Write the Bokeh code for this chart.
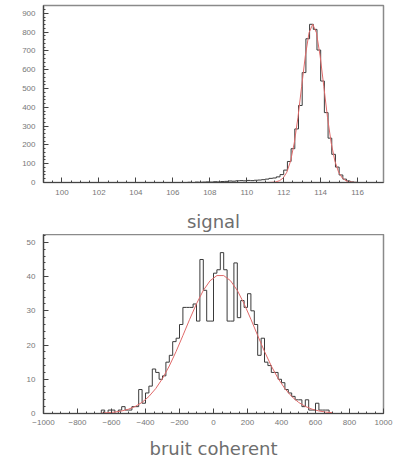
from bokeh.plotting import figure
from bokeh.layouts import column
from bokeh.models import Range1d, FixedTicker
from bokeh.embed import file_html
from bokeh.resources import INLINE

# ---- "signal" histogram: bins of width 0.2 starting at 106.8 ----
sig_lo = 106.8
sig_bin = 0.2
sig_counts = [1, 0, 2, 1, 2, 3,
              2, 4, 3, 5, 6,
              8, 7, 9, 10, 9,
              11, 10, 12, 13, 15,
              18, 22, 24, 30, 42,
              66, 112, 180, 285, 410,
              585, 765, 842, 815, 705,
              540, 372, 236, 150, 82,
              40, 18, 8, 3, 1,
              0]
# gaussian fit drawn over the peak
sig_fit_x = [111.17, 111.37, 111.57, 111.77, 111.97, 112.17, 112.37, 112.57,
             112.77, 112.97, 113.17, 113.37, 113.57, 113.77, 113.97, 114.17,
             114.37, 114.57, 114.77, 114.97, 115.17, 115.37, 115.57, 115.77,
             115.97]
sig_fit_y = [0.3, 1.0, 3.2, 9.4, 24, 55, 114, 210, 346, 511, 674, 797, 842,
             797, 674, 511, 346, 210, 114, 55, 24, 9.4, 3.2, 1.0, 0.3]
sig_xticks = [100, 102, 104, 106, 108, 110, 112, 114, 116]
sig_yticks = [0, 100, 200, 300, 400, 500, 600, 700, 800, 900]

# ---- "bruit coherent" histogram: bins of width 20 starting at -700 ----
cn_lo = -700
cn_bin = 20
cn_counts = [0, 0, 1, 0, 1, 1, 0, 1, 2, 1,
             1, 2, 2, 7, 3, 6, 8, 13, 12, 10,
             11, 15, 17, 21, 22, 26, 31, 31, 31, 32,
             27, 45, 36, 27, 27,
             41, 42, 47, 42, 27, 27, 44, 28, 33, 31,
             35, 30, 26, 17, 22, 15, 14, 12, 12, 10,
             9, 7, 6, 5, 4, 4, 2, 4, 1, 1,
             3, 1, 1, 1, 0]
cn_fit_x = [-660, -620, -580, -540, -500, -460, -420, -380, -340, -300,
            -260, -220, -180, -140, -100, -60, -20, 20, 60, 100,
            140, 180, 220, 260, 300, 340, 380, 420, 460, 500,
            540, 580, 620, 660, 700]
cn_fit_y = [0.12, 0.23, 0.42, 0.74, 1.26, 2.07, 3.26, 4.97, 7.27, 10.23,
            13.88, 18.12, 22.77, 27.54, 32.07, 35.96, 38.8, 40.3, 40.3, 38.8,
            35.96, 32.07, 27.54, 22.77, 18.12, 13.88, 10.23, 7.27, 4.97, 3.26,
            2.07, 1.26, 0.74, 0.42, 0.23]
cn_xticks = [-1000, -800, -600, -400, -200, 0, 200, 400, 600, 800, 1000]
cn_yticks = [0, 10, 20, 30, 40, 50]

HIST_COLOR = "#3a3a3a"
FIT_COLOR = "#e06a6a"
TEXT_COLOR = "#6e6e6e"


def outline(lo, width, counts):
    """Step outline of a histogram, closed down to zero at both ends."""
    xs, ys = [lo], [0]
    for i, c in enumerate(counts):
        a = lo + i * width
        xs += [a, a + width]
        ys += [c, c]
    xs.append(lo + len(counts) * width)
    ys.append(0)
    return xs, ys


def frame(p, label, xmajor, xminor, ymajor, yminor, tick_standoff, label_standoff):
    p.outline_line_color = "#8a8a8a"
    p.outline_line_width = 1.5
    p.xgrid.visible = False
    p.ygrid.visible = False
    p.background_fill_color = "white"
    p.border_fill_color = "white"
    p.xaxis.ticker = FixedTicker(ticks=xmajor, minor_ticks=xminor)
    p.yaxis.ticker = FixedTicker(ticks=ymajor, minor_ticks=yminor)
    for ax in (p.xaxis[0], p.yaxis[0]):
        ax.axis_line_color = "#444444"
        ax.axis_line_width = 1.2
        ax.major_tick_line_color = "#444444"
        ax.minor_tick_line_color = "#444444"
        ax.major_tick_in = 5
        ax.major_tick_out = 0
        ax.minor_tick_in = 2
        ax.minor_tick_out = 0
        ax.major_label_text_font = "Liberation Sans"
        ax.major_label_text_font_size = "8px"
        ax.major_label_text_color = "#777777"
    p.yaxis.major_label_standoff = 8
    p.xaxis.major_label_standoff = tick_standoff
    p.xaxis.axis_label = label
    p.xaxis.axis_label_text_font = "DejaVu Sans"
    p.xaxis.axis_label_text_font_style = "normal"
    p.xaxis.axis_label_text_font_size = "18px"
    p.xaxis.axis_label_text_color = TEXT_COLOR
    p.xaxis.axis_label_standoff = label_standoff


# top panel: signal
p1 = figure(width=395, height=234, output_backend="svg", toolbar_location=None,
            x_range=Range1d(99.0, 117.4), y_range=Range1d(0, 942),
            min_border_left=43, min_border_right=12, min_border_top=5,
            min_border_bottom=51)
frame(p1, "signal", sig_xticks,
      [99 + 0.5 * i for i in range(37)],
      sig_yticks, [20 * i for i in range(47)], 7, 13)
sx, sy = outline(sig_lo, sig_bin, sig_counts)
p1.line(sx, sy, line_color=HIST_COLOR, line_width=1)
p1.line(sig_fit_x, sig_fit_y, line_color=FIT_COLOR, line_width=1)

# bottom panel: coherent noise
p2 = figure(width=395, height=229, output_backend="svg", toolbar_location=None,
            x_range=Range1d(-1000, 1000), y_range=Range1d(0, 52.3),
            min_border_left=43, min_border_right=10, min_border_top=0,
            min_border_bottom=50)
frame(p2, "bruit coherent", cn_xticks,
      [-1000 + 50 * i for i in range(41)],
      cn_yticks, [2 * i for i in range(27)], 6, 10)
cx, cy = outline(cn_lo, cn_bin, cn_counts)
p2.line(cx, cy, line_color=HIST_COLOR, line_width=1)
p2.line(cn_fit_x, cn_fit_y, line_color=FIT_COLOR, line_width=1)

layout = column(p1, p2, spacing=0)
open("out.html", "w").write(file_html(layout, INLINE))
